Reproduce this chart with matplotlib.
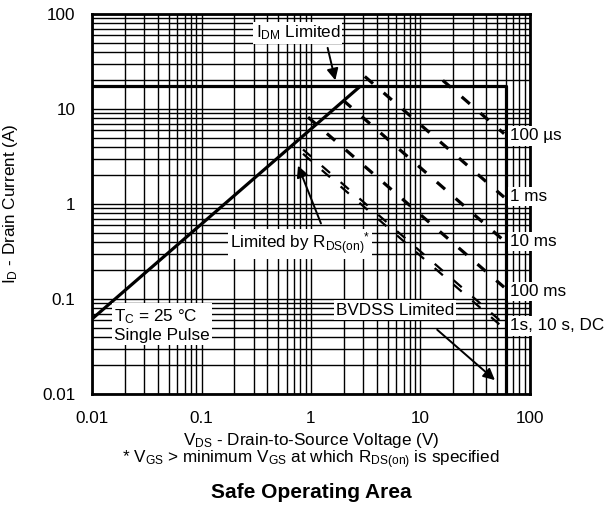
import matplotlib.pyplot as plt

plt.rcParams['font.family'] = ['Liberation Sans', 'DejaVu Sans']
plt.rcParams['mathtext.fontset'] = 'custom'
plt.rcParams['mathtext.rm'] = 'Liberation Sans'
plt.rcParams['mathtext.it'] = 'Liberation Sans'

# solid limit lines (V, A)
rds_v = [0.01, 2.84]
rds_i = [0.0616, 17.5]
idm_v = [0.01, 60, 60]
idm_i = [17.5, 17.5, 0.01]

# dashed pulse lines, start / end points
pulse_names = ['100 µs', '1 ms', '10 ms', '100 ms', '1s, 10 s, DC', 'DC']
start_v = [16, 3.1, 1.96, 0.94, 0.845, 0.845]
start_i = [20, 22, 12.4, 8.2, 3.75, 3.38]
end_v = [58, 58, 58, 58, 58, 58]
end_i = [5.5, 1.18, 0.41, 0.133, 0.0545, 0.049]

# right-hand labels
label_names = ['100 µs', '1 ms', '10 ms', '100 ms', '1s, 10 s, DC']
label_i = [5.2, 1.19, 0.40, 0.119, 0.052]

fs = 12.3

fig = plt.figure(figsize=(6.11, 5.08), dpi=100)
ax = fig.add_axes([0.1506, 0.2244, 0.7168, 0.7480])
ax.set_xscale('log')
ax.set_yscale('log')
ax.set_xlim(0.01, 100)
ax.set_ylim(0.01, 100)

ax.grid(True, which='both', color='black', linewidth=1.0)
ax.set_axisbelow(True)
for s in ax.spines.values():
    s.set_linewidth(2.0)
ax.tick_params(which='both', length=0, pad=12, labelsize=fs)
ax.set_xticks([0.01, 0.1, 1, 10, 100])
ax.set_xticklabels(['0.01', '0.1', '1', '10', '100'])
ax.set_yticks([0.01, 0.1, 1, 10, 100])
ax.set_yticklabels(['0.01', '0.1', '1', '10', '100'])

ax.plot(rds_v, rds_i, color='black', lw=2.3, solid_capstyle='butt')
ax.plot(idm_v, idm_i, color='black', lw=2.3, solid_capstyle='butt')

for k in range(len(pulse_names)):
    lw = 2.3 if k < 4 else 1.6
    ax.plot([start_v[k], end_v[k]], [start_i[k], end_i[k]], color='black', lw=lw,
            dashes=(3.4 * 2.3 / lw, 4.4 * 2.3 / lw), dash_capstyle='butt')

box = dict(facecolor='white', edgecolor='none', pad=1.5)
for name, yi in zip(label_names, label_i):
    ax.text(66, yi, name, fontsize=fs, ha='left', va='center', bbox=box, clip_on=False)

ax.text(0.76, 63, r'$\mathregular{I_{DM}}$ Limited', fontsize=fs, ha='center', va='center', bbox=box)
ax.annotate('', xy=(1.69, 18.8), xytext=(1.4, 47),
            arrowprops=dict(arrowstyle='-|>', color='black', lw=1.4, mutation_scale=17))

ax.text(0.79, 0.38, r'Limited by $\mathregular{R_{DS(on)}}^{*}$', fontsize=fs, ha='center', va='center', bbox=box)
ax.annotate('', xy=(0.745, 2.7), xytext=(1.26, 0.586),
            arrowprops=dict(arrowstyle='-|>', color='black', lw=1.4, mutation_scale=17))

ax.text(0.0159, 0.053, r'$\mathregular{T_C}$ = 25 °C' + '\nSingle Pulse', fontsize=fs,
        ha='left', va='center', bbox=box, linespacing=1.2)

ax.text(5.85, 0.0766, 'BVDSS Limited', fontsize=fs, ha='center', va='center', bbox=box)
ax.annotate('', xy=(50, 0.0134), xytext=(13.6, 0.0496),
            arrowprops=dict(arrowstyle='-|>', color='black', lw=1.4, mutation_scale=17))

ax.set_ylabel(r'$\mathregular{I_D}$ - Drain Current (A)', fontsize=fs)
ax.yaxis.set_label_coords(-0.164, 0.5)

fig.text(0.509, 1 - 441 / 508, r'$\mathregular{V_{DS}}$ - Drain-to-Source Voltage (V)',
         fontsize=fs, ha='center', va='center')
fig.text(0.509, 1 - 460 / 508,
         r'* $\mathregular{V_{GS}}$ > minimum $\mathregular{V_{GS}}$ at which $\mathregular{R_{DS(on)}}$ is specified',
         fontsize=fs, ha='center', va='center')
fig.text(0.509, 1 - 493 / 508, 'Safe Operating Area', fontsize=15, fontweight='bold',
         ha='center', va='center')

fig.savefig('out.png', dpi=100)
